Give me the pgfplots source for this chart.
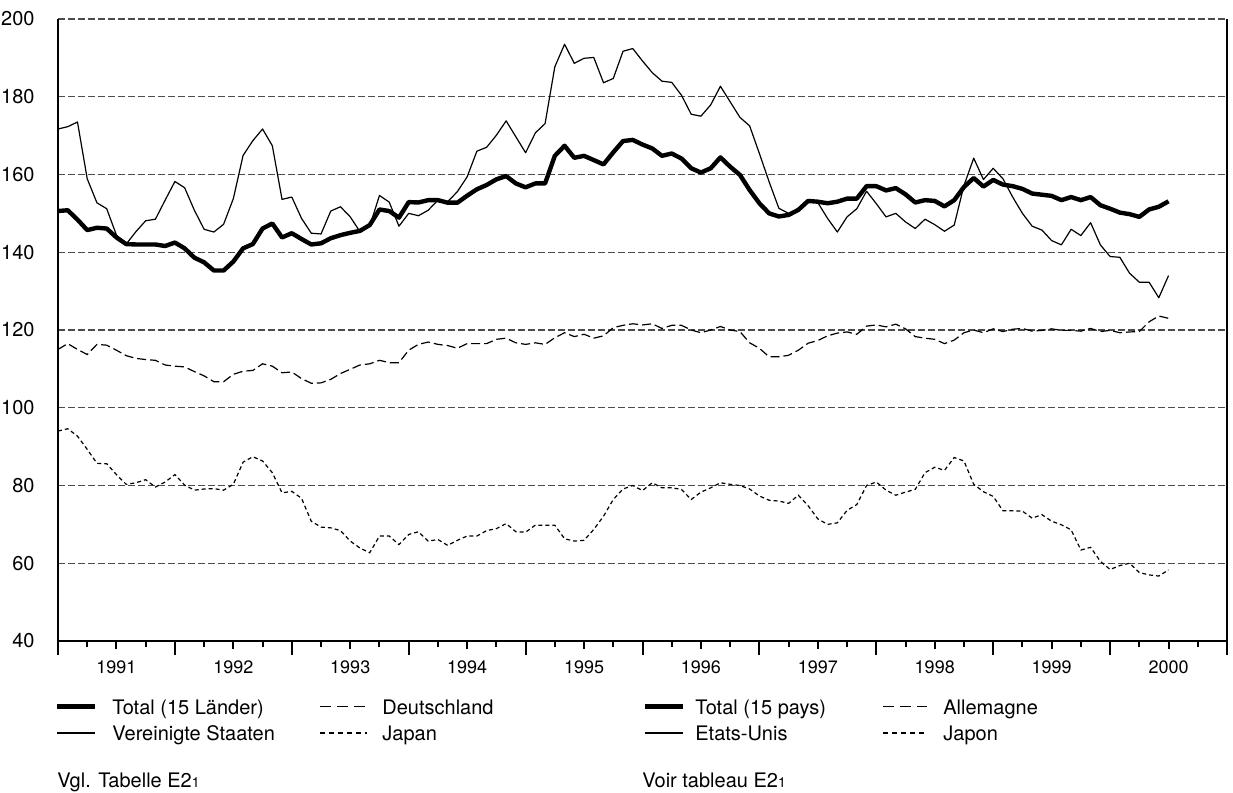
\documentclass[border=0pt]{standalone}
\usepackage{fontspec}
\setmainfont{TeX Gyre Heros}
\usepackage{pgfplots}
\usepackage{pgfplotstable}
\pgfplotsset{compat=1.18}

\pgfplotstableread{
m tot us de jp
0 150.6 171.7 115.0 94.0
1 150.8 172.3 116.5 94.6
2 148.4 173.5 115.0 92.7
3 145.7 158.9 113.7 89.3
4 146.3 152.7 116.3 85.7
5 146.1 151.2 116.1 85.6
6 143.8 144.4 114.8 82.8
7 142.1 142.1 113.4 80.3
8 142.0 145.3 112.7 80.7
9 142.0 148.1 112.4 81.5
10 142.0 148.5 112.2 79.6
11 141.6 153.4 111.0 80.9
12 142.5 158.2 110.7 82.8
13 141.0 156.6 110.5 80.1
14 138.6 150.8 109.3 78.8
15 137.4 145.9 108.2 79.1
16 135.3 145.2 106.7 79.2
17 135.3 147.2 106.7 78.8
18 137.6 153.8 108.6 80.3
19 141.0 164.9 109.4 86.0
20 142.1 168.7 109.6 87.4
21 146.1 171.7 111.3 86.3
22 147.4 167.4 110.7 83.3
23 143.8 153.6 109.0 78.1
24 144.9 154.2 109.2 78.5
25 143.4 148.7 107.5 76.7
26 142.0 144.9 106.3 70.8
27 142.3 144.7 106.4 69.3
28 143.6 150.6 107.3 69.1
29 144.4 151.7 108.8 68.4
30 145.0 149.1 109.9 65.7
31 145.5 145.3 111.0 63.9
32 147.0 146.7 111.3 62.7
33 151.0 154.6 112.2 67.0
34 150.6 152.9 111.6 67.0
35 148.9 146.7 111.6 64.8
36 152.9 150.0 114.8 67.4
37 152.8 149.4 116.3 68.1
38 153.4 150.8 116.9 65.7
39 153.4 153.4 116.3 66.1
40 152.75 153.0 116.0 64.6
41 152.75 155.6 115.3 65.9
42 154.55 159.4 116.5 67.0
43 156.2 166.0 116.5 67.0
44 157.3 167.0 116.5 68.4
45 158.75 170.1 117.6 68.9
46 159.6 173.8 117.9 70.2
47 157.7 169.7 116.7 68.1
48 156.7 165.6 116.3 68.0
49 157.7 170.7 116.7 69.8
50 157.7 173.1 116.3 69.8
51 164.8 187.7 118.0 69.8
52 167.4 193.5 119.3 66.3
53 164.3 188.6 118.3 65.7
54 164.8 189.9 118.9 65.9
55 163.7 190.1 117.9 68.7
56 162.6 183.6 118.5 72.1
57 165.7 184.7 120.6 76.4
58 168.6 191.7 121.2 79.1
59 168.9 192.4 121.6 80.0
60 167.7 189.2 121.3 78.7
61 166.7 186.2 121.6 80.7
62 164.8 184.0 120.4 79.4
63 165.4 183.7 121.2 79.4
64 164.1 180.4 121.2 79.0
65 161.6 175.5 120.0 76.4
66 160.5 175.0 119.3 78.3
67 161.6 177.9 120.0 79.4
68 164.4 182.7 120.9 80.7
69 162.0 178.7 120.0 80.3
70 159.9 174.7 119.6 80.0
71 156.0 172.5 116.7 79.1
72 152.6 165.4 115.3 77.3
73 150.0 158.1 113.1 76.2
74 149.2 151.3 113.1 76.0
75 149.6 150.0 113.5 75.4
76 150.9 150.9 114.8 77.5
77 153.2 153.2 116.6 74.8
78 153.0 152.75 117.3 71.4
79 152.6 148.7 118.5 70.0
80 153.0 145.2 119.2 70.4
81 153.8 149.1 119.5 73.6
82 153.8 151.2 118.9 75.1
83 157.0 155.7 121.0 80.0
84 157.0 152.5 121.3 80.9
85 155.9 149.1 120.8 78.8
86 156.5 150.0 121.5 77.5
87 154.9 147.8 120.3 78.3
88 152.8 146.1 118.3 79.0
89 153.4 148.5 117.9 83.3
90 153.2 147.1 117.6 84.7
91 151.8 145.4 116.5 83.9
92 153.4 147.0 117.4 87.2
93 156.8 157.2 119.3 86.3
94 159.1 164.2 120.0 80.3
95 156.9 158.7 119.3 78.4
96 158.6 161.6 120.3 77.2
97 157.4 158.9 119.6 73.5
98 157.0 154.2 120.2 73.5
99 156.3 150.0 120.4 73.4
100 155.1 146.7 119.7 71.6
101 154.8 145.7 119.9 72.5
102 154.5 143.0 120.3 70.8
103 153.4 141.9 119.9 69.9
104 154.2 145.9 119.9 68.6
105 153.4 144.3 119.7 63.4
106 154.2 147.6 120.4 64.1
107 152.1 141.9 119.6 60.5
108 151.2 138.9 119.9 58.4
109 150.2 138.7 119.3 59.4
110 149.8 134.6 119.5 60.0
111 149.1 132.3 119.6 57.6
112 151.0 132.3 122.1 57.0
113 151.7 128.3 123.6 56.7
114 153.1 134.0 123.0 58.3
}\datatable

\tikzset{
  totstyle/.style={line width=2.2pt, line join=round},
  usstyle/.style={line width=0.6pt, line join=round},
  destyle/.style={line width=0.6pt, dash pattern=on 4.5pt off 2pt},
  jpstyle/.style={line width=0.6pt, dash pattern=on 2pt off 1.5pt},
}

\begin{document}
\begin{tikzpicture}
\path[use as bounding box] (-29pt,-76pt) rectangle (587.5pt,320.5pt);
\begin{axis}[
  at={(0pt,0pt)}, anchor=south west,
  scale only axis,
  width=584.5pt, height=311pt,
  xmin=0, xmax=120, ymin=40, ymax=200,
  axis x line*=bottom, axis y line*=left,
  axis line style={line width=1pt, -},
  xtick={6,18,...,114},
  xticklabels={1991,1992,1993,1994,1995,1996,1997,1998,1999,2000},
  minor xtick={3,9,...,117},
  extra x ticks={0,12,...,120},
  extra x tick labels={},
  extra x tick style={major tick length=7pt},
  major tick length=4pt,
  minor tick length=3pt,
  tick align=outside,
  x tick style={line width=1pt, black},
  xticklabel style={font=\fontsize{9}{11}\selectfont, inner sep=0pt, yshift=-5.5pt},
  ytick={40,60,...,200},
  y tick style={draw=none},
  yticklabel style={font=\fontsize{10}{12}\selectfont, inner sep=0pt, xshift=-7.5pt},
  /pgf/number format/assume math mode=true,
  ymajorgrids,
  major grid style={line width=0.6pt, black!70, dash pattern=on 3.5pt off 1.5pt},
  clip=false,
]
\addplot[destyle] table[x=m, y=de] {\datatable};
\addplot[jpstyle] table[x=m, y=jp] {\datatable};
\addplot[usstyle] table[x=m, y=us] {\datatable};
\addplot[totstyle] table[x=m, y=tot] {\datatable};
\draw[line width=0.7pt] (rel axis cs:1,0) -- (rel axis cs:1,1);
\end{axis}
% legend (German)
\begin{scope}[font=\fontsize{10}{12}\selectfont]
\draw[totstyle] (-0.5pt,-32.85pt) -- (18.5pt,-32.85pt);
\node[anchor=base west, inner sep=0pt] at (27pt,-36.75pt) {Total (15 Länder)};
\draw[usstyle] (-0.5pt,-46pt) -- (18.5pt,-46pt);
\node[anchor=base west, inner sep=0pt] at (27pt,-49.5pt) {Vereinigte Staaten};
\draw[destyle, dash pattern=on 5.5pt off 3pt] (131pt,-32.85pt) -- (154.5pt,-32.85pt);
\node[anchor=base west, inner sep=0pt] at (162pt,-36.75pt) {Deutschland};
\draw[jpstyle, dash pattern=on 2.5pt off 2pt] (131pt,-46pt) -- (154.5pt,-46pt);
\node[anchor=base west, inner sep=0pt] at (162pt,-49.5pt) {Japan};
% legend (French)
\draw[totstyle] (293.5pt,-32.85pt) -- (312.5pt,-32.85pt);
\node[anchor=base west, inner sep=0pt] at (318.5pt,-36.75pt) {Total (15 pays)};
\draw[usstyle] (293.5pt,-46pt) -- (312.5pt,-46pt);
\node[anchor=base west, inner sep=0pt] at (318.5pt,-49.5pt) {Etats-Unis};
\draw[destyle, dash pattern=on 5.5pt off 3pt] (412.5pt,-32.85pt) -- (434.5pt,-32.85pt);
\node[anchor=base west, inner sep=0pt] at (442.5pt,-36.75pt) {Allemagne};
\draw[jpstyle, dash pattern=on 2.5pt off 2pt] (412.5pt,-46pt) -- (434.5pt,-46pt);
\node[anchor=base west, inner sep=0pt] at (442.5pt,-49.5pt) {Japon};
% notes
\node[anchor=base west, inner sep=0pt] at (-0.5pt,-73pt) {Vgl. Tabelle E2{\fontsize{7}{8}\selectfont 1}};
\node[anchor=base west, inner sep=0pt] at (292pt,-73pt) {Voir tableau E2{\fontsize{7}{8}\selectfont 1}};
\end{scope}
\end{tikzpicture}
\end{document}
